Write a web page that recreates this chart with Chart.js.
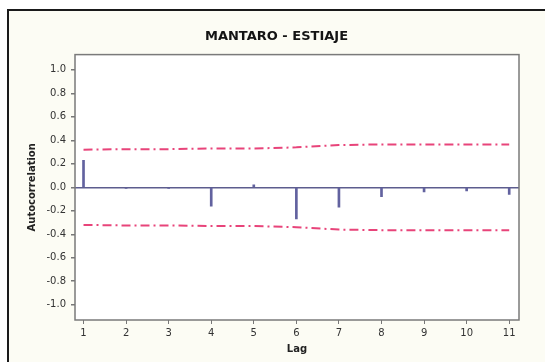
<!DOCTYPE html>
<html>
<head>
<meta charset="utf-8">
<script src="https://cdn.jsdelivr.net/npm/chart.js@4/dist/chart.umd.min.js"></script>
<style>
    html, body { margin: 0; padding: 0; background: #ffffff; }
    #wrap { position: relative; width: 545px; height: 362px; overflow: hidden; }
    #frame {
        position: absolute; left: 7px; top: 9px; width: 560px; height: 380px;
        border-left: 2px solid #1a1a1a; border-top: 2px solid #1a1a1a;
        background: #fcfcf4;
    }
    #chart { position: absolute; left: 0; top: 0; }
</style>
</head>
<body>
<div id="wrap">
    <div id="frame"></div>
    <canvas id="chart" width="545" height="362"></canvas>
</div>
<script>
// ── Dati ───────────────────────────────────────────────────
var lags = [1, 2, 3, 4, 5, 6, 7, 8, 9, 10, 11];
var autocorr = [0.23, -0.01, -0.01, -0.16, 0.02, -0.27, -0.17, -0.08, -0.04, -0.03, -0.06];
var limiteSup = [0.32, 0.325, 0.325, 0.33, 0.33, 0.34, 0.36, 0.365, 0.365, 0.365, 0.365];
var limiteInf = [-0.32, -0.325, -0.325, -0.33, -0.33, -0.34, -0.36, -0.365, -0.365, -0.365, -0.365];

var titolo = 'MANTARO - ESTIAJE';
var titoloX = 'Lag';
var titoloY = 'Autocorrelation';

function toPoints(xs, ys) {
    return xs.map(function (x, i) { return { x: x, y: ys[i] }; });
}

// sfondo bianco dell'area del grafico + cornice
var plotFrame = {
    id: 'plotFrame',
    beforeDraw: function (chart) {
        var a = chart.chartArea, ctx = chart.ctx;
        ctx.save();
        ctx.fillStyle = '#ffffff';
        ctx.fillRect(a.left, a.top, a.right - a.left, a.bottom - a.top);
        ctx.restore();
    },
    afterDraw: function (chart) {
        var a = chart.chartArea, ctx = chart.ctx;
        ctx.save();
        ctx.strokeStyle = '#7a7a7a';
        ctx.lineWidth = 1.5;
        ctx.strokeRect(a.left, a.top, a.right - a.left, a.bottom - a.top);
        ctx.restore();
    }
};

var limitStyle = {
    type: 'line',
    borderColor: '#e8447a',
    borderWidth: 2,
    borderDash: [9, 4, 2, 4],
    pointRadius: 0,
    tension: 0,
    fill: false
};

var ctx = document.getElementById('chart').getContext('2d');
new Chart(ctx, {
    data: {
        datasets: [
            Object.assign({ label: 'sup', data: toPoints(lags, limiteSup) }, limitStyle),
            Object.assign({ label: 'inf', data: toPoints(lags, limiteInf) }, limitStyle),
            {
                type: 'bar',
                label: 'ACF',
                data: toPoints(lags, autocorr),
                backgroundColor: '#62629f',
                barThickness: 2,
                borderWidth: 0
            }
        ]
    },
    options: {
        responsive: false,
        animation: false,
        layout: { padding: { left: 34, right: 26, top: 0, bottom: 0 } },
        plugins: {
            legend: { display: false },
            tooltip: { enabled: false },
            title: {
                display: true,
                text: titolo,
                color: '#141414',
                font: { family: 'DejaVu Sans', size: 13, weight: 'bold' },
                padding: { top: 29, bottom: 10 }
            }
        },
        scales: {
            x: {
                type: 'linear',
                offset: false,
                min: 0.8,
                max: 11.23,
                afterFit: function (s) { s.height = 42; },
                ticks: {
                    stepSize: 1,
                    includeBounds: false,
                    padding: 3,
                    color: '#333333',
                    font: { family: 'DejaVu Sans', size: 10 },
                    maxRotation: 0
                },
                grid: { offset: false, drawOnChartArea: false, tickLength: 4, tickColor: '#777777' },
                border: { display: false },
                title: {
                    display: true,
                    text: titoloX,
                    color: '#222222',
                    font: { family: 'DejaVu Sans', size: 10, weight: 'bold' },
                    padding: { top: 0, bottom: 7 }
                }
            },
            y: {
                min: -1.13,
                max: 1.13,
                afterFit: function (s) { s.width = 41; },
                ticks: {
                    stepSize: 0.2,
                    includeBounds: false,
                    padding: 5,
                    color: '#333333',
                    font: { family: 'DejaVu Sans', size: 10 },
                    callback: function (v) {
                        if (Math.abs(v) < 1e-9) v = 0;
                        return v.toFixed(1);
                    }
                },
                grid: {
                    drawOnChartArea: true,
                    tickLength: 4,
                    tickColor: '#777777',
                    lineWidth: 1.5,
                    color: function (c) {
                        return (c.tick && Math.abs(c.tick.value) < 1e-9) ? '#5d5d8e' : 'rgba(0,0,0,0)';
                    }
                },
                border: { display: false },
                title: {
                    display: true,
                    text: titoloY,
                    color: '#222222',
                    font: { family: 'DejaVu Sans', size: 10, weight: 'bold' },
                    padding: { top: -8, bottom: 0 }
                }
            }
        }
    },
    plugins: [plotFrame]
});
</script>
</body>
</html>
